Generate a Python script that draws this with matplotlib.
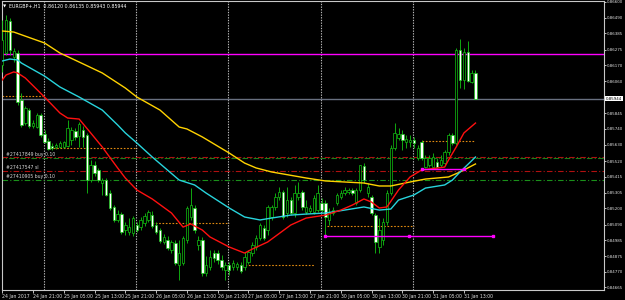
import numpy as np
import matplotlib
matplotlib.use("Agg")
import matplotlib.pyplot as plt
from matplotlib.patches import Rectangle
from matplotlib.transforms import blended_transform_factory

# EURGBP+ H1, 24 Jan 2017 13:00 .. 31 Jan 16:00, prices in points (1e-5)
opens = [86171, 86252, 86469, 86225, 86252, 85934, 85778, 85866, 85758, 85751,
         85832, 85704, 85656, 85623, 85616, 85616, 85616, 85623, 85663, 85724,
         85690, 85731, 85697, 85392, 85494, 85460, 85372, 85392, 85304, 85210,
         85122, 85162, 85054, 85040, 85034, 85088, 85074, 85101, 85122, 85155,
         85088, 85054, 84973, 84986, 84918, 84966, 84817, 84830, 84986, 85142,
         85203, 84952, 84986, 84763, 84803, 84898, 84898, 84851, 84783, 84817,
         84803, 84803, 84817, 84803, 84837, 84898, 84939, 85000, 85067, 85054,
         85142, 85210, 85277, 85311, 85169, 85257, 85169, 85277, 85311, 85176,
         85183, 85176, 85189, 85237, 85237, 85122, 85169, 85237, 85277, 85304,
         85311, 85325, 85237, 85325, 85487, 85304, 85277, 85155, 84939, 84986,
         85108, 85304, 85609, 85677, 85704, 85650, 85650, 85663, 85541, 85650,
         85480, 85494, 85480, 85514, 85494, 85507, 85582, 85697, 85643, 86272,
         86069, 86259, 86056, 86120]
highs = [86476, 86509, 86489, 86286, 86272, 85981, 85893, 85880, 85799, 85846,
         85846, 85731, 85677, 85643, 85643, 85656, 85656, 85799, 85751, 85744,
         85785, 85758, 85711, 85528, 85521, 85474, 85406, 85406, 85325, 85223,
         85189, 85176, 85108, 85135, 85149, 85108, 85142, 85169, 85189, 85183,
         85108, 85067, 85027, 85013, 84986, 84986, 84986, 85013, 85216, 85338,
         85223, 85013, 85007, 84878, 84918, 84918, 84918, 84885, 84837, 84837,
         84851, 84837, 84837, 84905, 84918, 84973, 85020, 85101, 85088, 85223,
         85223, 85304, 85345, 85325, 85345, 85277, 85359, 85379, 85325, 85257,
         85223, 85291, 85359, 85271, 85257, 85203, 85210, 85304, 85325, 85345,
         85338, 85338, 85338, 85494, 85508, 85372, 85291, 85169, 85135, 85135,
         85325, 85629, 85778, 85744, 85731, 85697, 85697, 85684, 85629, 85663,
         85562, 85562, 85575, 85541, 85562, 85596, 85711, 85711, 86286, 86347,
         86286, 86333, 86137, 86135]
lows = [86124, 86239, 86239, 86191, 85900, 85751, 85765, 85744, 85744, 85744,
        85684, 85643, 85595, 85595, 85602, 85609, 85609, 85616, 85629, 85663,
        85616, 85616, 85304, 85379, 85419, 85379, 85291, 85284, 85189, 85108,
        85108, 85027, 85020, 85020, 85013, 85040, 85054, 85081, 85108, 85067,
        85027, 84966, 84959, 84918, 84898, 84817, 84715, 84817, 84966, 85122,
        85034, 84918, 84742, 84742, 84783, 84837, 84824, 84783, 84715, 84749,
        84783, 84783, 84763, 84783, 84824, 84878, 84918, 84986, 84986, 85020,
        85122, 85189, 85257, 85128, 85142, 85155, 85142, 85257, 85189, 85162,
        85169, 85162, 85176, 85176, 85020, 85088, 85155, 85223, 85264, 85291,
        85298, 85291, 85223, 85311, 85372, 85277, 85155, 84898, 84898, 84952,
        85088, 85291, 85595, 85663, 85595, 85609, 85616, 85609, 85528, 85528,
        85474, 85480, 85474, 85474, 85480, 85494, 85562, 85629, 85629, 86015,
        86009, 86056, 86049, 85943]
closes = [86340, 86476, 86272, 86266, 85920, 85765, 85880, 85758, 85778, 85832,
          85697, 85650, 85602, 85609, 85629, 85643, 85650, 85744, 85731, 85684,
          85772, 85684, 85392, 85494, 85440, 85392, 85392, 85291, 85203, 85122,
          85162, 85040, 85088, 85074, 85135, 85054, 85122, 85149, 85176, 85081,
          85040, 84979, 85007, 84932, 84973, 84830, 84898, 85000, 85203, 85223,
          85054, 84986, 84763, 84817, 84871, 84864, 84851, 84803, 84817, 84783,
          84830, 84824, 84776, 84871, 84905, 84952, 85000, 85088, 85000, 85210,
          85210, 85277, 85311, 85142, 85257, 85169, 85304, 85304, 85210, 85210,
          85203, 85271, 85304, 85189, 85142, 85176, 85189, 85291, 85304, 85325,
          85325, 85304, 85325, 85494, 85392, 85345, 85169, 84973, 85054, 85108,
          85304, 85609, 85711, 85704, 85663, 85670, 85663, 85643, 85609, 85541,
          85541, 85541, 85548, 85480, 85528, 85582, 85697, 85643, 86272, 86069,
          86259, 86063, 86120, 85944]

# moving averages (bar index, points)
ma_yellow_bar = [0, 3, 11, 15, 20, 26, 32, 35, 41, 46, 48, 52, 59, 63, 66, 70,
                 79, 84, 94, 98, 101, 106, 110, 116, 119, 123]
ma_yellow = [86401, 86394, 86320, 86252, 86191, 86117, 86015, 85954, 85866,
             85751, 85738, 85684, 85575, 85507, 85474, 85447, 85406, 85386,
             85372, 85352, 85352, 85379, 85399, 85413, 85447, 85501]
ma_cyan_bar = [0, 2, 4, 5, 11, 15, 20, 26, 30, 32, 35, 39, 46, 50, 53, 59, 63,
               67, 70, 75, 79, 84, 89, 94, 98, 101, 103, 107, 110, 115, 117,
               119, 123]
ma_cyan = [86198, 86211, 86205, 86184, 86096, 86022, 85954, 85866, 85765,
           85711, 85643, 85548, 85392, 85359, 85304, 85203, 85142, 85122,
           85135, 85155, 85162, 85169, 85189, 85210, 85189, 85196, 85257,
           85291, 85338, 85359, 85392, 85447, 85548]
ma_red_bar = [0, 1, 3, 4, 6, 11, 15, 17, 20, 23, 26, 30, 32, 35, 39, 44, 47, 49,
              52, 54, 59, 63, 65, 69, 75, 79, 84, 88, 91, 94, 96, 98, 100, 103,
              106, 109, 115, 116, 118, 120, 123]
ma_red = [86069, 86103, 86124, 86117, 86083, 85954, 85846, 85812, 85805, 85711,
          85616, 85474, 85406, 85325, 85264, 85169, 85074, 85095, 85054, 85007,
          84939, 84898, 84925, 84973, 85088, 85135, 85155, 85189, 85223, 85264,
          85243, 85203, 85210, 85325, 85413, 85460, 85480, 85528, 85616, 85711,
          85778]

# order lines
order_prices = [0.85547, 0.85454, 0.85393]
order_labels = ["#27417849 buy 0.10", "#27417547 sl", "#27410905 buy 0.10"]
tp_price = 0.86243
bid_price = 0.85944

# trade history segments: (bars of the marks, price)
hist_orange = [((0, 10.5), 0.85958), ((12.5, 35), 0.85609), ((39, 59), 0.85101),
               ((63, 81), 0.84817), ((84.5, 107), 0.85078), ((109, 123), 0.85654)]
hist_magenta = [((83.8, 105.8, 127.6), 0.85011), ((109, 120), 0.85465)]

day_sep = [10.75, 34.75, 58.75, 82.75, 106.75]
xtick_bars = [0, 8, 16, 24, 32, 40, 48, 56, 64, 72, 80, 88, 96, 104, 112, 120]
xtick_labels = ["24 Jan 2017", "24 Jan 21:00", "25 Jan 05:00", "25 Jan 13:00",
                "25 Jan 21:00", "26 Jan 05:00", "26 Jan 13:00", "26 Jan 21:00",
                "27 Jan 05:00", "27 Jan 13:00", "27 Jan 21:00", "30 Jan 05:00",
                "30 Jan 13:00", "30 Jan 21:00", "31 Jan 05:00", "31 Jan 13:00"]
ytick_prices = [0.86600, 0.86490, 0.86385, 0.86275, 0.86170, 0.86060, 0.85845,
                0.85740, 0.85630, 0.85520, 0.85415, 0.85305, 0.85200, 0.85090,
                0.84985, 0.84875, 0.84770, 0.84665]

o = np.array(opens) / 1e5
h = np.array(highs) / 1e5
l = np.array(lows) / 1e5
c = np.array(closes) / 1e5
n = len(o)

W, H = 625, 300
fig = plt.figure(figsize=(W / 100, H / 100), dpi=100, facecolor="black")
ax = fig.add_axes([2 / W, 10 / H, 602 / W, 289 / H], facecolor="black")
ax.set_xlim(-0.05, 156.4)
ax.set_ylim(0.84648, 0.86604)

green = "#12c412"
bars = np.arange(n)
ax.vlines(bars, l, h, color=green, lw=0.6, zorder=3)
for i in range(n):
    bull = c[i] >= o[i]
    lo, hi = min(o[i], c[i]), max(o[i], c[i])
    ax.add_patch(Rectangle((i - 0.32, lo), 0.64, max(hi - lo, 0.000015),
                           facecolor="black" if bull else "white",
                           edgecolor=green, lw=0.5, zorder=4))

ax.plot(ma_yellow_bar, np.array(ma_yellow) / 1e5, color="#ffd200", lw=1.0, zorder=5)
ax.plot(ma_cyan_bar, np.array(ma_cyan) / 1e5, color="#28d4dc", lw=1.0, zorder=5)
ax.plot(ma_red_bar, np.array(ma_red) / 1e5, color="#ff1010", lw=1.0, zorder=5)

for x in day_sep:
    ax.axvline(x, color="#b8b8b8", lw=0.8, ls=(0, (1.2, 1.2)), zorder=1)

ax.axhline(tp_price, color="#ff00ff", lw=1.0, zorder=2)
ax.axhline(bid_price, color="#687080", lw=1.0, zorder=2)

dashdot = (0, (5, 2, 1, 2))
ax.axhline(order_prices[0], color="#b01010", lw=0.8, ls=dashdot, zorder=2)
ax.axhline(order_prices[0] - 0.00004, color="#1a801a", lw=0.8, ls=(4, (5, 2, 1, 2)), zorder=2)
ax.axhline(order_prices[1], color="#b01010", lw=0.8, ls=dashdot, zorder=2)
ax.axhline(order_prices[2], color="#1a901a", lw=0.8, ls=dashdot, zorder=2)
for p, txt in zip(order_prices, order_labels):
    ax.text(1.0, p + 0.00003, txt, color="#d8d8d8", fontsize=3.3,
            va="bottom", ha="left", zorder=6)

for xs, p in hist_orange:
    ax.plot(xs, [p] * len(xs), color="#e08a10", lw=0.8, ls=(0, (1.5, 1.5)), zorder=2)
for xs, p in hist_magenta:
    ax.plot(xs, [p] * len(xs), color="#ff00ff", lw=1.0, zorder=6,
            marker="s", ms=1.6)

# axes styling
for side in ["left", "right", "top", "bottom"]:
    ax.spines[side].set_color("#c8c8c8")
    ax.spines[side].set_linewidth(0.8)
ax.yaxis.tick_right()
ax.set_yticks(ytick_prices)
ax.set_yticklabels(["%.5f" % p for p in ytick_prices])
ax.set_xticks(xtick_bars)
ax.set_xticklabels(xtick_labels)
ax.tick_params(axis="y", colors="#e0e0e0", labelsize=2.9, length=1.5, width=0.6, pad=0.6)
ax.tick_params(axis="x", colors="#e0e0e0", labelsize=3.3, length=2, width=0.6, pad=1)
for lbl in ax.get_xticklabels():
    lbl.set_ha("left")

trans = blended_transform_factory(ax.transAxes, ax.transData)
ax.text(1.003, bid_price, "0.85944", transform=trans, fontsize=2.9, color="black",
        va="center", ha="left",
        bbox=dict(boxstyle="square,pad=0.15", facecolor="white", edgecolor="none"))

fig.text(3 / W, 1 - 6 / H, "\u25bc", color="white", fontsize=3.0, va="center")
fig.text(9 / W, 1 - 6 / H, "EURGBP+,H1  0.86120 0.86135 0.85943 0.85944",
         color="white", fontsize=3.4, va="center")

fig.savefig("out.png", dpi=100, facecolor="black")
